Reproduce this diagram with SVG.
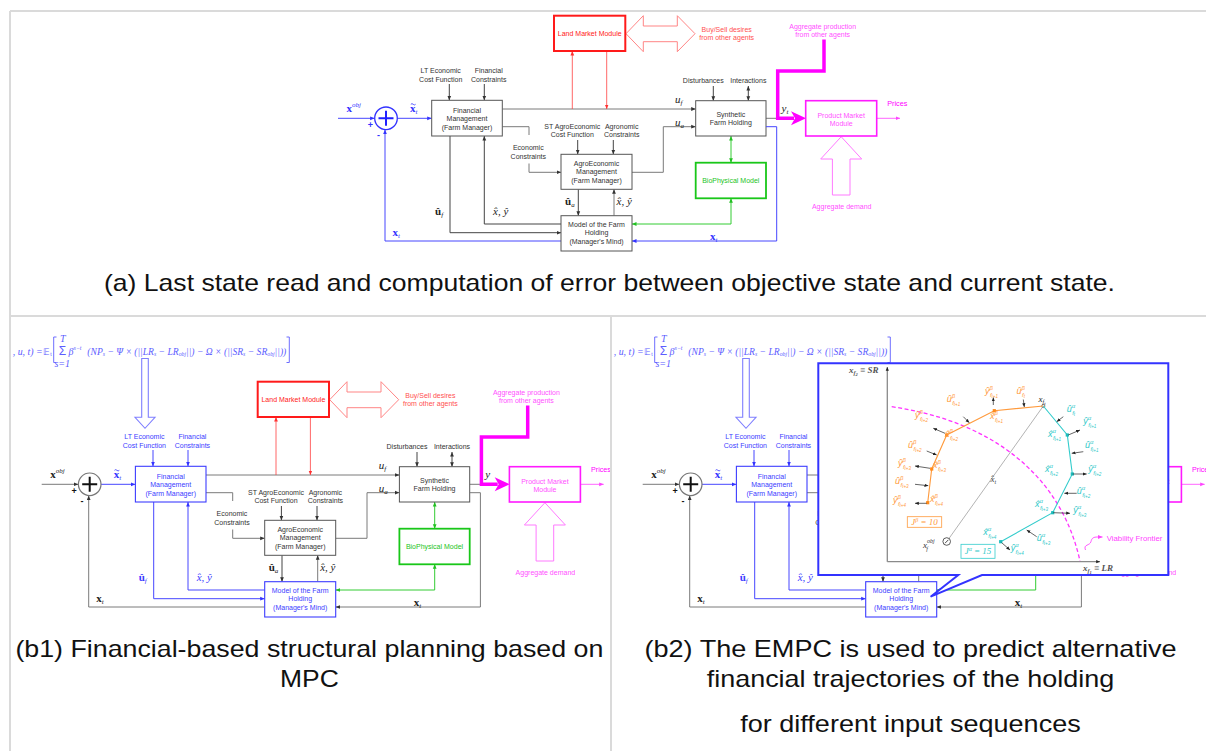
<svg xmlns="http://www.w3.org/2000/svg" xmlns:xlink="http://www.w3.org/1999/xlink" width="1206" height="751" viewBox="0 0 1206 751">
<style>
text{font-family:"Liberation Sans",Arial,sans-serif}
.t{font-size:7px;fill:#333;text-anchor:middle}
.tb{fill:#3c3cff}
.tr{fill:#ff2020}
.tr2{fill:#ff5050}
.tp{fill:#ff50ff}
.tg{fill:#1cc41c}
.m{font-family:"Liberation Serif","Times New Roman",serif;font-style:italic;font-size:11px;fill:#222}
.mb{font-family:"Liberation Serif","Times New Roman",serif;font-weight:bold;font-size:11px;fill:#222}
.sb{font-size:7px;font-style:italic;font-weight:normal}
.box{fill:#fff;stroke:#555;stroke-width:1}
.bbox{fill:#fff;stroke:#3c3cff;stroke-width:1.1}
.ln{fill:none;stroke:#7a7a7a;stroke-width:1}
.dk{fill:none;stroke:#444;stroke-width:1}
.bl{fill:none;stroke:#4646ff;stroke-width:1}
.rl{fill:none;stroke:#ff4040;stroke-width:0.8}
.gl{fill:none;stroke:#33cc33;stroke-width:1}
.ml{fill:none;stroke:#ff66ff;stroke-width:1}
.cap{font-size:24px;fill:#111;text-anchor:middle}
.frame{stroke:#dadada;stroke-width:2;fill:none}
.fm{font-family:"Liberation Serif","Times New Roman",serif;font-style:italic;font-size:10px;fill:#5d5dff}
.fs{font-size:6px}
.pl{font-family:"Liberation Serif","Times New Roman",serif;font-style:italic;font-size:9px}
.po{fill:#ff9a3c}
.pc{fill:#2fc9c9}
.s1{font-size:6px}
.s2{font-size:4.5px}
.pa{fill:none;stroke:#222;stroke-width:0.7}
.ax{fill:none;stroke:#8a8a8a;stroke-width:1.3}
</style>
<defs>
 <marker id="ah" viewBox="0 0 10 10" refX="10" refY="5" markerWidth="4.5" markerHeight="4.5" markerUnits="userSpaceOnUse" orient="auto-start-reverse"><path d="M0,0.8 L10,5 L0,9.2z" fill="#333"/></marker>
 <marker id="ah-b" viewBox="0 0 10 10" refX="10" refY="5" markerWidth="4.5" markerHeight="4.5" markerUnits="userSpaceOnUse" orient="auto-start-reverse"><path d="M0,0.8 L10,5 L0,9.2z" fill="#3333ff"/></marker>
 <marker id="ah-r" viewBox="0 0 10 10" refX="10" refY="5" markerWidth="4.5" markerHeight="4.5" markerUnits="userSpaceOnUse" orient="auto-start-reverse"><path d="M0,0.8 L10,5 L0,9.2z" fill="#ff3030"/></marker>
 <marker id="ah-g" viewBox="0 0 10 10" refX="10" refY="5" markerWidth="4.5" markerHeight="4.5" markerUnits="userSpaceOnUse" orient="auto-start-reverse"><path d="M0,0.8 L10,5 L0,9.2z" fill="#22c022"/></marker>
 <marker id="ah-m" viewBox="0 0 10 10" refX="10" refY="5" markerWidth="4.5" markerHeight="4.5" markerUnits="userSpaceOnUse" orient="auto-start-reverse"><path d="M0,0.8 L10,5 L0,9.2z" fill="#ff44ff"/></marker>
 <marker id="ah-s" viewBox="0 0 10 10" refX="10" refY="5" markerWidth="3.8" markerHeight="3.8" markerUnits="userSpaceOnUse" orient="auto-start-reverse"><path d="M0,0.8 L10,5 L0,9.2z" fill="#222"/></marker>
 <clipPath id="clip-b1"><rect x="11" y="317" width="599" height="434"/></clipPath>

 <!-- blocks and links common to every copy of the farm control loop -->
 <g id="loop-shared">
  <g id="shared-connectors">
   <path class="ln" d="M502.3,109 H695.7" marker-end="url(#ah)"/>
   <path class="ln" d="M502.3,126.7 H529 V135"/>
   <path class="ln" d="M529,163.5 V172.3 H561" marker-end="url(#ah)"/>
   <path class="ln" d="M632,172.3 H663.3 V126.7 H695.7" marker-end="url(#ah)"/>
   <path class="dk" d="M577.7,140 V154.3" marker-end="url(#ah)"/>
   <path class="dk" d="M613.3,140 V154.3" marker-end="url(#ah)"/>
   <path class="dk" d="M713.3,86 V100.7" marker-end="url(#ah)"/>
   <path class="dk" d="M748.3,86 V100.7" marker-start="url(#ah)" marker-end="url(#ah)"/>
   <path class="dk" d="M578.3,189.3 V215.7" marker-end="url(#ah)"/>
   <path class="ln" d="M614,215.7 V189.3" marker-end="url(#ah)"/>
   <path class="ln" d="M766,118.3 H790"/>
   <path d="M824,39.5 V71 H777.7 V118.3 H794" fill="none" stroke="#ff00ff" stroke-width="3.5"/>
   <polygon points="791,111.3 806,118.3 791,125.3 795,118.3" fill="#ff00ff"/>
   <path class="ml" d="M876.7,118.3 H900" marker-end="url(#ah-m)"/>
   <path class="rl" d="M572.3,109 V51" marker-end="url(#ah-r)"/>
   <path class="rl" d="M606.7,51 V109" marker-end="url(#ah-r)"/>
   <polygon points="626,33.7 643.3,15.7 643.3,26 677.3,26 677.3,15.7 695,33.7 677.3,51.7 677.3,41.7 643.3,41.7 643.3,51.7" fill="#fff" stroke="#ff8585" stroke-width="1"/>
   <polygon points="841.2,136.7 861.7,159 850,159 850,195 832.4,195 832.4,159 820.7,159" fill="#fff" stroke="#ff7aff" stroke-width="1"/>
   <path class="gl" d="M731,136 V162.7" marker-start="url(#ah-g)" marker-end="url(#ah-g)"/>
   <path class="gl" d="M731,198.3 V224 H632" marker-start="url(#ah-g)" marker-end="url(#ah-g)"/>
  </g>
  <g id="land-market"><rect x="554" y="15.7" width="71.3" height="35.3" fill="#fff" stroke="#ff1a1a" stroke-width="2"/><text class="t tr" x="589.7" y="35.8">Land Market Module</text></g>
  <g id="synthetic-farm"><rect class="box" x="695.7" y="100.7" width="70.3" height="35.3"/><text class="t" x="730.8" y="116.5">Synthetic</text><text class="t" x="730.8" y="125.2">Farm Holding</text></g>
  <g id="agro-management"><rect class="box" x="561" y="154.3" width="71" height="35"/><text class="t" x="596.5" y="165.8">AgroEconomic</text><text class="t" x="596.5" y="174.2">Management</text><text class="t" x="596.5" y="183.2">(Farm Manager)</text></g>
  <g id="biophysical-model"><rect x="695.7" y="162.7" width="70.3" height="35.6" fill="#fff" stroke="#19c719" stroke-width="1.8"/><text class="t tg" x="730.8" y="183">BioPhysical Model</text></g>
  <g id="product-market"><rect x="805.7" y="100.7" width="71" height="35.3" fill="#fff" stroke="#ff1aff" stroke-width="1.6"/><text class="t tp" x="841.2" y="117.5">Product Market</text><text class="t tp" x="841.2" y="125.8">Module</text></g>
  <g id="shared-labels">
   <text class="t" x="572.3" y="128.5">ST AgroEconomic</text><text class="t" x="572.3" y="136.8">Cost Function</text>
   <text class="t" x="621.7" y="128.5">Agronomic</text><text class="t" x="621.7" y="136.8">Constraints</text>
   <text class="t" x="528.3" y="149.8">Economic</text><text class="t" x="528.3" y="158.5">Constraints</text>
   <text class="t" x="703.3" y="82.5">Disturbances</text><text class="t" x="748.3" y="82.5">Interactions</text>
   <text class="t tr2" x="726.7" y="31.8">Buy/Sell desires</text><text class="t tr2" x="726.7" y="40.2">from other agents</text>
   <text class="t tp" x="822.7" y="28.5">Aggregate production</text><text class="t tp" x="822.7" y="37.2">from other agents</text>
   <text class="t tp" x="841.7" y="209.2">Aggregate demand</text>
   <text x="887.3" y="106" font-size="7.2" fill="#ff00ff">Prices</text>
   <text class="m" x="675" y="102.5" font-size="12">u<tspan class="sb" dy="2.5">f</tspan></text>
   <text class="m" x="675" y="126" font-size="12">u<tspan class="sb" dy="2">a</tspan></text>
   <text class="mb" x="565" y="205" font-size="10">û<tspan class="sb" dy="1.5">a</tspan></text>
   <text class="m" x="616.5" y="205" font-size="10">x̂, ŷ</text>
  </g>
 </g>
</defs>

<g id="panel-frame" class="frame"><path d="M10,11 H1206 M10,11 V751 M10,316 H1206 M611,316 V751"/></g>

<!-- panel (a): state read-out and error computation -->
<g id="panel-a">
 <use href="#loop-shared"/>
 <g id="a-connectors">
  <path class="bl" d="M338,118.3 H374.6" marker-end="url(#ah-b)"/>
  <path class="bl" d="M397.3,118.3 H431.7" marker-end="url(#ah-b)"/>
  <path class="dk" d="M449.3,84 V100.3" marker-end="url(#ah)"/>
  <path class="dk" d="M484.3,84 V100.3" marker-end="url(#ah)"/>
  <path class="dk" d="M450,136 V232.7 H561" marker-end="url(#ah)"/>
  <path class="dk" d="M561,224 H484.3 V136" marker-end="url(#ah)"/>
  <path class="bl" d="M766,126.7 H776.7 V241 H632" marker-end="url(#ah-b)"/>
  <path class="bl" d="M561,241 H385 V129.6" marker-end="url(#ah-b)"/>
 </g>
 <g id="a-financial-management"><rect class="box" x="431.7" y="100.3" width="70.6" height="35.7"/><text class="t" x="467" y="112.5">Financial</text><text class="t" x="467" y="120.8">Management</text><text class="t" x="467" y="129.8">(Farm Manager)</text></g>
 <g id="a-farm-model"><rect class="box" x="561" y="215.7" width="71" height="35.3"/><text class="t" x="596.5" y="226.8">Model of the Farm</text><text class="t" x="596.5" y="235.2">Holding</text><text class="t" x="596.5" y="243.5">(Manager's Mind)</text></g>
 <g id="a-error-sum"><circle cx="386" cy="118.3" r="11.3" fill="#fff" stroke="#3333ff" stroke-width="1.3"/><path d="M378.5,118.3 H393.5 M386,110.8 V125.8" stroke="#2020ff" stroke-width="2"/>
  <text x="370.5" y="127.5" font-size="9" font-weight="bold" fill="#3333ff" text-anchor="middle">+</text><text x="378.4" y="138" font-size="9" font-weight="bold" fill="#3333ff" text-anchor="middle">-</text></g>
 <g id="a-labels">
  <text class="t" x="440.7" y="72.5">LT Economic</text><text class="t" x="440.7" y="81.5">Cost Function</text>
  <text class="t" x="488.7" y="72.5">Financial</text><text class="t" x="488.7" y="81.5">Constraints</text>
  <text class="mb" x="346.5" y="111.5" font-size="12" style="fill:#3333ff">x<tspan class="sb" dy="-5">obj</tspan></text>
  <text class="mb" x="410" y="111.5" font-size="12" style="fill:#3333ff">x<tspan class="sb" dy="2">t</tspan></text>
  <path d="M410.8,104.3 q1.2,-1.3 2.4,0 t2.4,0" fill="none" stroke="#3333ff" stroke-width="0.8"/>
  <text class="mb" x="435" y="214.5" font-size="11">û<tspan class="sb" dy="2">f</tspan></text>
  <text class="m" x="493" y="214.5" font-size="11">x̂, ŷ</text>
  <text class="mb" x="392.5" y="235.5" font-size="11" style="fill:#3333ff">x<tspan class="sb" dy="2">t</tspan></text>
  <text class="mb" x="710" y="239.5" font-size="11" style="fill:#3333ff">x<tspan class="sb" dy="2">t</tspan></text>
  <text class="m" x="781.5" y="111.5" font-size="12">y<tspan class="sb" dy="2">t</tspan></text>
 </g>
</g>

<!-- panel (b1): financial MPC planning -->
<g id="panel-b1" clip-path="url(#clip-b1)">
 <use href="#loop-shared" transform="translate(-296.3,366)"/>
 <g transform="translate(-296.3,366)">
  <g id="b1-connectors">
   <path class="ln" d="M338,118.3 H374.6" marker-end="url(#ah)"/>
   <path class="bl" d="M397.3,118.3 H431.7" marker-end="url(#ah-b)"/>
   <path class="bl" d="M449.3,84 V100.3" marker-end="url(#ah-b)"/>
   <path class="bl" d="M484.3,84 V100.3" marker-end="url(#ah-b)"/>
   <path class="bl" d="M450,136 V232.7 H561" marker-end="url(#ah-b)"/>
   <path class="bl" d="M561,224 H484.3 V136" marker-end="url(#ah-b)"/>
   <path class="ln" d="M766,126.7 H776.7 V241 H632" marker-end="url(#ah)"/>
   <path class="ln" d="M561,241 H385 V129.6" marker-end="url(#ah)"/>
  </g>
  <g id="b1-financial-management"><rect class="bbox" x="431.7" y="100.3" width="70.6" height="35.7"/><text class="t tb" x="467" y="112.5">Financial</text><text class="t tb" x="467" y="120.8">Management</text><text class="t tb" x="467" y="129.8">(Farm Manager)</text></g>
  <g id="b1-farm-model"><rect class="bbox" x="561" y="215.7" width="71" height="35.3"/><text class="t tb" x="596.5" y="226.8">Model of the Farm</text><text class="t tb" x="596.5" y="235.2">Holding</text><text class="t tb" x="596.5" y="243.5">(Manager's Mind)</text></g>
  <g id="b1-error-sum"><circle cx="386" cy="118.3" r="11.3" fill="#fff" stroke="#777" stroke-width="1.2"/><path d="M378.5,118.3 H393.5 M386,110.8 V125.8" stroke="#111" stroke-width="2"/>
   <text x="370.5" y="127.5" font-size="9" font-weight="bold" fill="#111" text-anchor="middle">+</text><text x="378.4" y="138" font-size="9" font-weight="bold" fill="#111" text-anchor="middle">-</text></g>
  <g id="b1-labels">
   <text class="t tb" x="440.7" y="72.5">LT Economic</text><text class="t tb" x="440.7" y="81.5">Cost Function</text>
   <text class="t tb" x="488.7" y="72.5">Financial</text><text class="t tb" x="488.7" y="81.5">Constraints</text>
   <text class="mb" x="346.5" y="111.5" font-size="12">x<tspan class="sb" dy="-5">obj</tspan></text>
   <text class="mb" x="410" y="111.5" font-size="12" style="fill:#3333ff">x<tspan class="sb" dy="2">t</tspan></text>
   <path d="M410.8,104.3 q1.2,-1.3 2.4,0 t2.4,0" fill="none" stroke="#3333ff" stroke-width="0.8"/>
   <text class="mb" x="435" y="214.5" font-size="11" style="fill:#3c3cff">û<tspan class="sb" dy="2">f</tspan></text>
   <text class="m" x="493" y="214.5" font-size="11" style="fill:#3c3cff">x̂, ŷ</text>
   <text class="mb" x="392.5" y="235.5" font-size="11">x<tspan class="sb" dy="2">t</tspan></text>
   <text class="mb" x="710" y="239.5" font-size="11">x<tspan class="sb" dy="2">t</tspan></text>
   <text class="m" x="781.5" y="111.5" font-size="12">y</text>
  </g>
 </g>
 <g id="cost-function-formula">
  <text class="fm" x="12.7" y="354.5" textLength="30" lengthAdjust="spacingAndGlyphs">, u, t) =</text>
  <text x="43.3" y="354.5" font-family="DejaVu Sans, sans-serif" font-size="8.5" fill="#5d5dff">𝔼<tspan font-size="5" dy="1.5">t</tspan></text>
  <path d="M56.5,337 H53.7 V362.5 H56.5 M286.5,337 H289.3 V362.5 H286.5" fill="none" stroke="#5d5dff" stroke-width="0.9"/>
  <text x="62.5" y="355" font-size="12" text-anchor="middle" font-family="Liberation Serif, serif" fill="#5d5dff">Σ</text>
  <text class="fm" x="62.7" y="342" font-size="5" text-anchor="middle">T</text>
  <text class="fm" x="62.2" y="366.5" font-size="4.5" text-anchor="middle">s=1</text>
  <text class="fm" x="68.5" y="354.5">β<tspan class="fs" dy="-4.5">s−t</tspan></text>
  <text class="fm" x="87.3" y="354.5" textLength="199" lengthAdjust="spacingAndGlyphs">(NP<tspan class="fs" dy="1.5">s</tspan><tspan dy="-1.5"> − Ψ × (||LR</tspan><tspan class="fs" dy="1.5">s</tspan><tspan dy="-1.5"> − LR</tspan><tspan class="fs" dy="1.5">obj</tspan><tspan dy="-1.5">||) − Ω × (||SR</tspan><tspan class="fs" dy="1.5">s</tspan><tspan dy="-1.5"> − SR</tspan><tspan class="fs" dy="1.5">obj</tspan><tspan dy="-1.5">||))</tspan></text>
 </g>
 <g id="cost-function-arrow"><polygon points="141.7,358.5 148.3,358.5 148.3,417.3 155,417.3 145,428.3 135,417.3 141.7,417.3" fill="#fff" stroke="#7f7fff" stroke-width="1.1"/></g>
</g>

<!-- panel (b2): same loop with the EMPC trajectory inset -->
<use id="panel-b2" href="#panel-b1" x="601"/>
<g id="trajectory-callout">
 <path d="M818.3,363.3 H1168.3 V575 H982 L930.6,596.7 L958.3,575 H818.3 Z" fill="#fff" stroke="#3333ff" stroke-width="2"/>
 <g id="plot-axes">
  <path class="ax" d="M887.3,561.7 V367" marker-end="url(#ah-s)"/>
  <path class="ax" d="M887.3,561.7 H1100" marker-end="url(#ah-s)"/>
  <text class="pl" x="849" y="373" font-size="8" fill="#555" font-weight="bold">x<tspan class="s1" dy="1.8">f</tspan><tspan class="s2" dy="1.2">2</tspan><tspan dy="-3"> ≡ SR</tspan></text>
  <text class="pl" x="1083" y="571" font-size="8" fill="#555" font-weight="bold">x<tspan class="s1" dy="1.8">f</tspan><tspan class="s2" dy="1.2">1</tspan><tspan dy="-3"> ≡ LR</tspan></text>
 </g>
 <g id="viability-frontier">
  <path d="M891.7,406.7 C985,420 1060,470 1080,561" fill="none" stroke="#ff33ff" stroke-width="1.3" stroke-dasharray="4 2.5"/>
  <path d="M1085.5,550 c-2.5,-6 4.5,-4 5.5,-8.5 c0.8,-3.5 2.5,-4.5 6.5,-4.5 h5" fill="none" stroke="#ff44ff" stroke-width="0.9" marker-end="url(#ah-m)"/>
  <text x="1106.7" y="541" font-family="Liberation Serif, serif" font-size="7.8" fill="#ff44ff">Viability Frontier</text>
 </g>
 <g id="state-gap">
  <path d="M946.7,541.7 L1043.3,406" fill="none" stroke="#aaa" stroke-width="0.9"/>
  <circle cx="946.7" cy="541.5" r="3.8" fill="#fff" stroke="#333" stroke-width="0.8"/>
  <path d="M945,543.2 L948.4,539.8" stroke="#333" stroke-width="0.9"/>
  <circle cx="1043.3" cy="406" r="1.6" fill="#fff" stroke="#555" stroke-width="0.7"/>
  <text class="pl" x="1038.5" y="402" fill="#222">x<tspan class="s1" dy="1.8">f</tspan><tspan class="s2" dy="1.2">t</tspan></text>
  <text class="pl" x="990.5" y="482" fill="#444">x̂<tspan class="s1" dy="1.5">t</tspan></text>
  <text class="pl" x="923" y="548" font-size="9.5" fill="#333">x<tspan class="s1" dy="-5.5">obj</tspan><tspan class="s1" dx="-8.5" dy="8.5">f</tspan></text>
 </g>
 <g id="trajectory-beta">
  <polyline points="1043.3,406 994.3,410.7 946.7,435 931.7,469 927.7,502.7" fill="none" stroke="#ff9a3c" stroke-width="1.1"/>
  <g fill="#ff8a1a"><rect x="992.7" y="409.1" width="3.2" height="3.2"/><rect x="945.1" y="433.4" width="3.2" height="3.2"/><rect x="930.1" y="467.4" width="3.2" height="3.2"/><rect x="926.1" y="501.1" width="3.2" height="3.2"/></g>
  <g class="pa">
   <path d="M1023.3,399.5 L1024.3,407" marker-end="url(#ah-s)"/>
   <path d="M993.3,405 V397.5" marker-end="url(#ah-s)"/>
   <path d="M963.3,416.7 L969.3,422.7" marker-end="url(#ah-s)"/>
   <path d="M945,433.3 L933.3,428.3" marker-end="url(#ah-s)"/>
   <path d="M926.7,451 L936.7,455" marker-end="url(#ah-s)"/>
   <path d="M930,468.3 L915,466" marker-end="url(#ah-s)"/>
   <path d="M915,484.3 L928.3,485.7" marker-end="url(#ah-s)"/>
   <path d="M926.7,503.3 H915" marker-end="url(#ah-s)"/>
  </g>
  <g class="pl po">
   <text x="1016.5" y="394">û<tspan class="s1" dy="-3.6">β</tspan><tspan class="s1" dx="-3" dy="6.3">f</tspan><tspan class="s2" dy="1.4">t</tspan></text>
   <text x="985" y="394">ŷ<tspan class="s1" dy="-3.6">β</tspan><tspan class="s1" dx="-3" dy="6.3">f</tspan><tspan class="s2" dy="1.4">t+1</tspan></text>
   <text x="990" y="419">x̂<tspan class="s1" dy="-3.6">β</tspan><tspan class="s1" dx="-3" dy="6.3">f</tspan><tspan class="s2" dy="1.4">t+1</tspan></text>
   <text x="946.7" y="402">û<tspan class="s1" dy="-3.6">β</tspan><tspan class="s1" dx="-3" dy="6.3">f</tspan><tspan class="s2" dy="1.4">t+1</tspan></text>
   <text x="915" y="418">ŷ<tspan class="s1" dy="-3.6">β</tspan><tspan class="s1" dx="-3" dy="6.3">f</tspan><tspan class="s2" dy="1.4">t+2</tspan></text>
   <text x="945" y="437">x̂<tspan class="s1" dy="-3.6">β</tspan><tspan class="s1" dx="-3" dy="6.3">f</tspan><tspan class="s2" dy="1.4">t+2</tspan></text>
   <text x="908" y="448">û<tspan class="s1" dy="-3.6">β</tspan><tspan class="s1" dx="-3" dy="6.3">f</tspan><tspan class="s2" dy="1.4">t+2</tspan></text>
   <text x="898" y="466">ŷ<tspan class="s1" dy="-3.6">β</tspan><tspan class="s1" dx="-3" dy="6.3">f</tspan><tspan class="s2" dy="1.4">t+3</tspan></text>
   <text x="933" y="468">x̂<tspan class="s1" dy="-3.6">β</tspan><tspan class="s1" dx="-3" dy="6.3">f</tspan><tspan class="s2" dy="1.4">t+3</tspan></text>
   <text x="895" y="484">û<tspan class="s1" dy="-3.6">β</tspan><tspan class="s1" dx="-3" dy="6.3">f</tspan><tspan class="s2" dy="1.4">t+3</tspan></text>
   <text x="893" y="503">ŷ<tspan class="s1" dy="-3.6">β</tspan><tspan class="s1" dx="-3" dy="6.3">f</tspan><tspan class="s2" dy="1.4">t+4</tspan></text>
   <text x="930" y="502">x̂<tspan class="s1" dy="-3.6">β</tspan><tspan class="s1" dx="-3" dy="6.3">f</tspan><tspan class="s2" dy="1.4">t+4</tspan></text>
  </g>
  <rect x="907.3" y="516.7" width="34.4" height="10.6" fill="#fff" stroke="#ff9a3c" stroke-width="0.8"/>
  <text class="pl po" x="924.5" y="524.8" text-anchor="middle" font-size="8.5">J<tspan class="s1" dy="-3">β</tspan><tspan dy="3"> = 10</tspan></text>
 </g>
 <g id="trajectory-alpha">
  <polyline points="1043.3,406 1067.3,435 1072.3,474 1052.7,512.7 1000.7,541.7" fill="none" stroke="#33cccc" stroke-width="1.1"/>
  <g fill="#1cbcbc"><rect x="1065.7" y="433.4" width="3.2" height="3.2"/><rect x="1070.7" y="472.4" width="3.2" height="3.2"/><rect x="1051.1" y="511.1" width="3.2" height="3.2"/><rect x="999.1" y="540.1" width="3.2" height="3.2"/></g>
  <g class="pa">
   <path d="M1063.3,416.7 L1056.7,421.7" marker-end="url(#ah-s)"/>
   <path d="M1068.3,435 L1080,430" marker-end="url(#ah-s)"/>
   <path d="M1083.3,451.7 L1071.7,453.3" marker-end="url(#ah-s)"/>
   <path d="M1072.7,474 H1086.7" marker-end="url(#ah-s)"/>
   <path d="M1076.7,493.3 H1064.3" marker-end="url(#ah-s)"/>
   <path d="M1053.3,512.7 L1070,513.3" marker-end="url(#ah-s)"/>
   <path d="M1036.7,536.7 L1026.7,530" marker-end="url(#ah-s)"/>
   <path d="M1001.7,542.7 L1010,550" marker-end="url(#ah-s)"/>
  </g>
  <g class="pl pc">
   <text x="1066.7" y="412">û<tspan class="s1" dy="-3.6">α</tspan><tspan class="s1" dx="-3" dy="6.3">f</tspan><tspan class="s2" dy="1.4">t</tspan></text>
   <text x="1083.3" y="424">ŷ<tspan class="s1" dy="-3.6">α</tspan><tspan class="s1" dx="-3" dy="6.3">f</tspan><tspan class="s2" dy="1.4">t+1</tspan></text>
   <text x="1048" y="437">x̂<tspan class="s1" dy="-3.6">α</tspan><tspan class="s1" dx="-3" dy="6.3">f</tspan><tspan class="s2" dy="1.4">t+1</tspan></text>
   <text x="1085" y="448">û<tspan class="s1" dy="-3.6">α</tspan><tspan class="s1" dx="-3" dy="6.3">f</tspan><tspan class="s2" dy="1.4">t+1</tspan></text>
   <text x="1045" y="472">x̂<tspan class="s1" dy="-3.6">α</tspan><tspan class="s1" dx="-3" dy="6.3">f</tspan><tspan class="s2" dy="1.4">t+2</tspan></text>
   <text x="1088.3" y="472">ŷ<tspan class="s1" dy="-3.6">α</tspan><tspan class="s1" dx="-3" dy="6.3">f</tspan><tspan class="s2" dy="1.4">t+2</tspan></text>
   <text x="1076.7" y="494">û<tspan class="s1" dy="-3.6">α</tspan><tspan class="s1" dx="-3" dy="6.3">f</tspan><tspan class="s2" dy="1.4">t+2</tspan></text>
   <text x="1035" y="507">x̂<tspan class="s1" dy="-3.6">α</tspan><tspan class="s1" dx="-3" dy="6.3">f</tspan><tspan class="s2" dy="1.4">t+3</tspan></text>
   <text x="1073.3" y="513">ŷ<tspan class="s1" dy="-3.6">α</tspan><tspan class="s1" dx="-3" dy="6.3">f</tspan><tspan class="s2" dy="1.4">t+3</tspan></text>
   <text x="983.3" y="535">x̂<tspan class="s1" dy="-3.6">α</tspan><tspan class="s1" dx="-3" dy="6.3">f</tspan><tspan class="s2" dy="1.4">t+4</tspan></text>
   <text x="1036.7" y="541">û<tspan class="s1" dy="-3.6">α</tspan><tspan class="s1" dx="-3" dy="6.3">f</tspan><tspan class="s2" dy="1.4">t+3</tspan></text>
   <text x="1010.7" y="551">ŷ<tspan class="s1" dy="-3.6">α</tspan><tspan class="s1" dx="-3" dy="6.3">f</tspan><tspan class="s2" dy="1.4">t+4</tspan></text>
  </g>
  <rect x="961" y="544.3" width="34" height="14" fill="#fff" stroke="#33cccc" stroke-width="0.8"/>
  <text class="pl pc" x="978" y="554.2" text-anchor="middle" font-size="8.5">J<tspan class="s1" dy="-3">α</tspan><tspan dy="3"> = 15</tspan></text>
 </g>
</g>

<g id="captions">
 <text class="cap" x="609.5" y="291" textLength="1011" lengthAdjust="spacingAndGlyphs">(a) Last state read and computation of error between objective state and current state.</text>
 <text class="cap" x="309.4" y="656.7" textLength="588" lengthAdjust="spacingAndGlyphs">(b1) Financial-based structural planning based on</text>
 <text class="cap" x="309.4" y="687.3" textLength="58.8" lengthAdjust="spacingAndGlyphs">MPC</text>
 <text class="cap" x="910.5" y="656.7" textLength="532" lengthAdjust="spacingAndGlyphs">(b2) The EMPC is used to predict alternative</text>
 <text class="cap" x="910.5" y="686.7" textLength="407.6" lengthAdjust="spacingAndGlyphs">financial trajectories of the holding</text>
 <text class="cap" x="910.5" y="731.7" textLength="340.4" lengthAdjust="spacingAndGlyphs">for different input sequences</text>
</g>
</svg>
